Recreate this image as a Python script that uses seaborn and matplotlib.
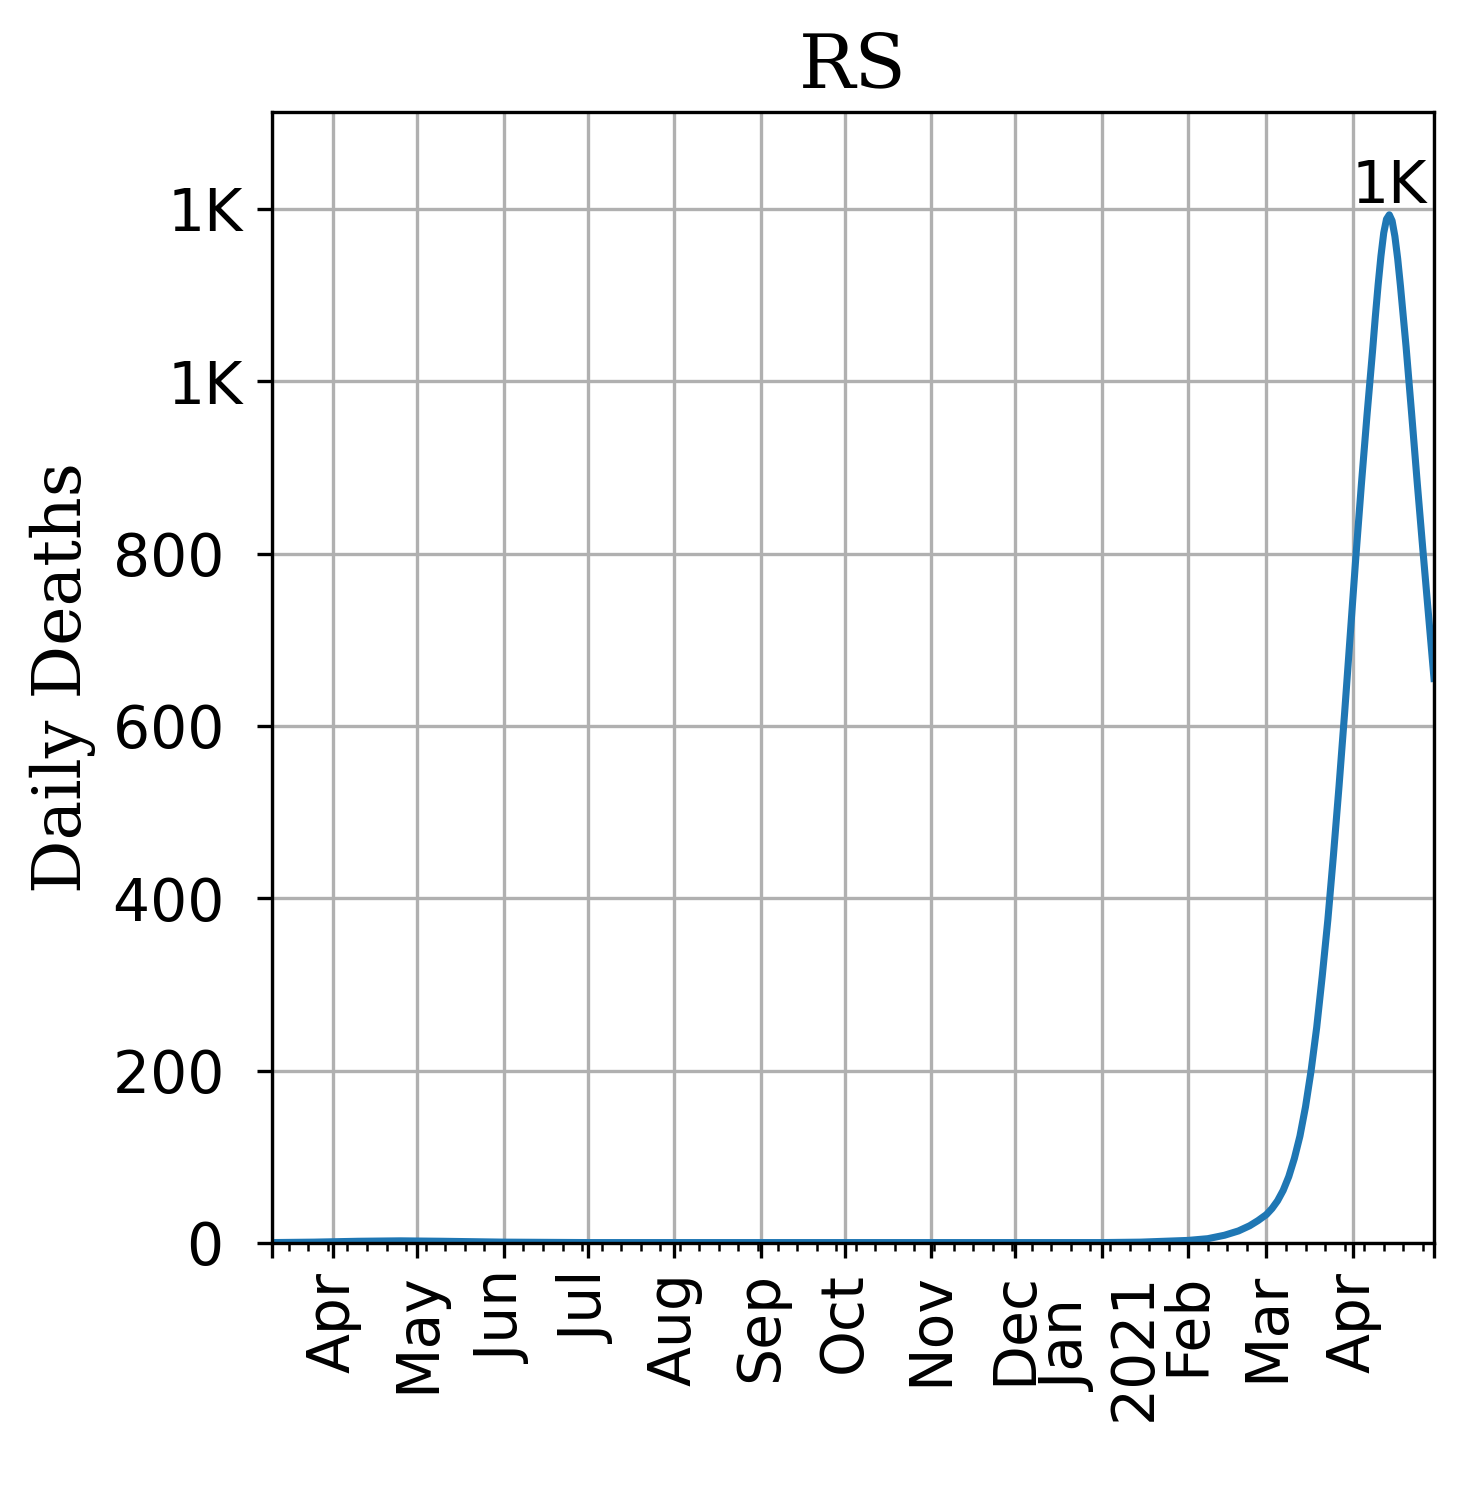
import matplotlib
matplotlib.use("Agg")
import matplotlib.pyplot as plt
import matplotlib.dates as mdates
from matplotlib.ticker import FuncFormatter
import seaborn as sns
import pandas as pd

# daily deaths (RS)
dates = [
    "2020-03-10", "2020-03-25", "2020-04-10", "2020-04-25", "2020-05-10",
    "2020-06-01", "2020-07-01", "2020-08-01", "2020-09-01", "2020-10-01",
    "2020-11-01", "2020-12-01", "2021-01-01", "2021-01-15", "2021-02-01",
    "2021-02-08", "2021-02-14", "2021-02-19", "2021-02-23", "2021-02-26",
    "2021-03-01", "2021-03-03", "2021-03-05", "2021-03-07", "2021-03-09",
    "2021-03-11", "2021-03-13", "2021-03-15", "2021-03-17", "2021-03-19",
    "2021-03-21", "2021-03-23", "2021-03-25", "2021-03-27", "2021-03-29",
    "2021-03-31", "2021-04-02", "2021-04-04", "2021-04-06", "2021-04-08",
    "2021-04-09", "2021-04-10", "2021-04-11", "2021-04-12", "2021-04-13",
    "2021-04-14", "2021-04-15", "2021-04-16", "2021-04-17", "2021-04-18",
    "2021-04-20", "2021-04-22", "2021-04-24", "2021-04-26", "2021-04-28",
    "2021-04-30",
]
deaths = [
    0.5, 1, 2, 2.5, 2,
    1, 0.5, 0.5, 0.5, 0.5,
    0.5, 0.5, 0.5, 1, 3,
    5, 9, 14, 20, 26,
    33, 40, 49, 61, 77,
    98, 124, 158, 200, 250,
    310, 375, 450, 530, 615,
    705, 795, 880, 960, 1035,
    1075, 1112, 1145, 1172, 1188,
    1193, 1186, 1168, 1142, 1110,
    1040, 962, 882, 805, 730,
    655,
]

tick_dates = [
    "2020-03-10", "2020-04-01", "2020-05-01", "2020-06-01", "2020-07-01",
    "2020-08-01", "2020-09-01", "2020-10-01", "2020-11-01", "2020-12-01",
    "2021-01-01", "2021-02-01", "2021-03-01", "2021-04-01", "2021-04-30",
]
tick_labels = [
    "", "Apr", "May", "Jun", "Jul", "Aug", "Sep", "Oct", "Nov", "Dec",
    "Jan\n2021", "Feb", "Mar", "Apr", "",
]

df = pd.DataFrame({"date": pd.to_datetime(dates), "deaths": deaths})


def k_fmt(v, pos=None):
    # numbers under 1000 keep an empty suffix (a space)
    if v >= 1000:
        return f"{v / 1000:.0f}K"
    return f"{v:.0f} "


fig = plt.figure(figsize=(1467 / 300, 1508 / 300), dpi=300)
ax = fig.add_axes([272 / 1467, 1 - 1243 / 1508, (1434 - 272) / 1467, (1243 - 112) / 1508])

sns.lineplot(data=df, x="date", y="deaths", ax=ax, color="#1f77b4", linewidth=1.7)

ax.set_xlim(df["date"].min(), df["date"].max())
ax.set_ylim(0, df["deaths"].max() * 1.1)

ax.set_xticks(pd.to_datetime(tick_dates))
ax.set_xticklabels(tick_labels, rotation=90, fontsize=14)
ax.xaxis.set_minor_locator(mdates.WeekdayLocator(byweekday=mdates.MO))
ax.yaxis.set_major_formatter(FuncFormatter(k_fmt))
ax.tick_params(axis="y", labelsize=14)
ax.grid(True, which="major", color="#b0b0b0", linewidth=0.8)

# label the peak
i_max = df["deaths"].idxmax()
ax.text(df["date"][i_max], df["deaths"][i_max], k_fmt(df["deaths"][i_max]),
        ha="center", va="bottom", fontsize=14)

ax.set_xlabel("")
ax.set_ylabel("Daily Deaths", fontsize=16, family="serif")
ax.set_title("RS", fontsize=18, family="serif")

fig.savefig("out.png", dpi=300)
